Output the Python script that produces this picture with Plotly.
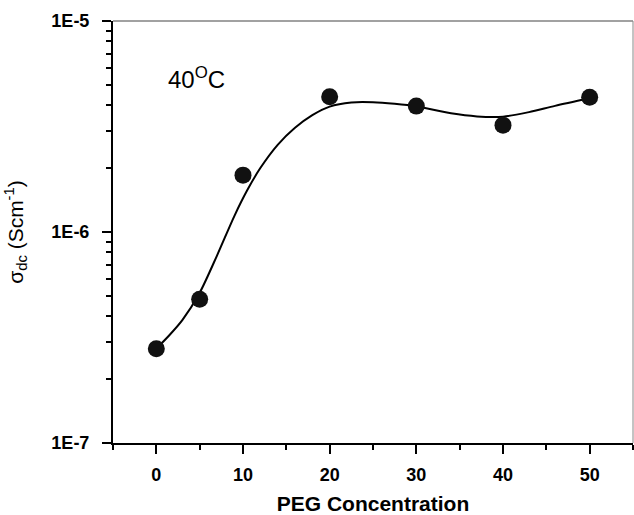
import plotly.graph_objects as go

# Measured data points
peg_conc = [0, 5, 10, 20, 30, 40, 50]
sigma_dc = [2.8e-7, 4.8e-7, 1.86e-6, 4.37e-6, 3.95e-6, 3.21e-6, 4.35e-6]

# Fitted curve
fit_x = [0, 1.5, 3, 5, 7, 9, 10.5, 12, 14, 16, 18, 20, 22.5, 25, 27.5, 30,
         34, 37, 40, 43, 46, 50]
fit_y = [2.8e-7, 3.24e-7, 3.82e-7, 5.15e-7, 7.73e-7, 1.19e-6, 1.58e-6, 2.01e-6,
         2.59e-6, 3.12e-6, 3.58e-6, 3.93e-6, 4.11e-6, 4.12e-6, 4.05e-6, 3.94e-6,
         3.65e-6, 3.53e-6, 3.52e-6, 3.70e-6, 3.96e-6, 4.3e-6]

x_ticks = [0, 10, 20, 30, 40, 50]
x_minor = [-5, 5, 15, 25, 35, 45, 55]
y_ticks = [1e-7, 1e-6, 1e-5]
y_ticktext = ["1E-7", "1E-6", "1E-5"]
y_minor = [k * 1e-7 for k in range(2, 10)] + [k * 1e-6 for k in range(2, 10)]

FONT = "Liberation Sans, Arial, sans-serif"

fig = go.Figure()
fig.add_trace(go.Scatter(x=fit_x, y=fit_y, mode="lines",
                         line=dict(color="black", width=2, shape="spline", smoothing=0.8),
                         showlegend=False, hoverinfo="skip"))
fig.add_trace(go.Scatter(x=peg_conc, y=sigma_dc, mode="markers",
                         marker=dict(color="#111111", size=17, symbol="circle"),
                         showlegend=False))

tickfont = dict(family=FONT, size=18, color="black", weight="bold")

fig.update_layout(
    width=634, height=515,
    margin=dict(l=113, r=1, t=21, b=72),
    paper_bgcolor="white", plot_bgcolor="white",
    font=dict(family=FONT, color="black"),
    xaxis=dict(
        range=[-5, 55], showgrid=False, zeroline=False,
        showline=True, linecolor="black", linewidth=2,
        tickmode="array", tickvals=x_ticks,
        ticks="outside", ticklen=9, tickwidth=2, tickcolor="black",
        ticklabelstandoff=5,
        tickfont=tickfont,
        minor=dict(tickmode="array", tickvals=x_minor, ticks="outside",
                   ticklen=5, tickwidth=1.5, tickcolor="black"),
        title=dict(text="PEG Concentration", standoff=24,
                   font=dict(family=FONT, size=21, weight="bold", color="black")),
        automargin=False,
    ),
    yaxis=dict(
        type="log", range=[-7, -5], showgrid=False, zeroline=False,
        showline=True, linecolor="black", linewidth=2,
        tickmode="array", tickvals=y_ticks, ticktext=y_ticktext,
        ticks="outside", ticklen=9, tickwidth=2, tickcolor="black",
        ticklabelstandoff=9,
        tickfont=tickfont,
        minor=dict(tickmode="array", tickvals=y_minor, ticks="outside",
                   ticklen=5, tickwidth=1.5, tickcolor="black"),
        title=dict(text="σ<sub>dc</sub> (Scm<sup>-1</sup>)", standoff=22,
                   font=dict(family=FONT, size=21, color="black")),
        automargin=False,
    ),
    shapes=[
        dict(type="line", xref="paper", yref="paper", x0=0, x1=1, y0=1, y1=1,
             line=dict(color="#444444", width=1.2)),
        dict(type="line", xref="paper", yref="paper", x0=1, x1=1, y0=0, y1=1,
             line=dict(color="#888888", width=1)),
    ],
    annotations=[
        dict(text="40<sup>O</sup>C", xref="paper", yref="paper",
             x=(166 - 113) / 520, y=(443 - 78) / 422, xanchor="left", yanchor="middle",
             showarrow=False,
             font=dict(family=FONT, size=24, color="black")),
    ],
)

fig.write_html("out.html", config={"displayModeBar": False},
               post_script="document.body.style.margin='0';document.body.style.padding='0';")
